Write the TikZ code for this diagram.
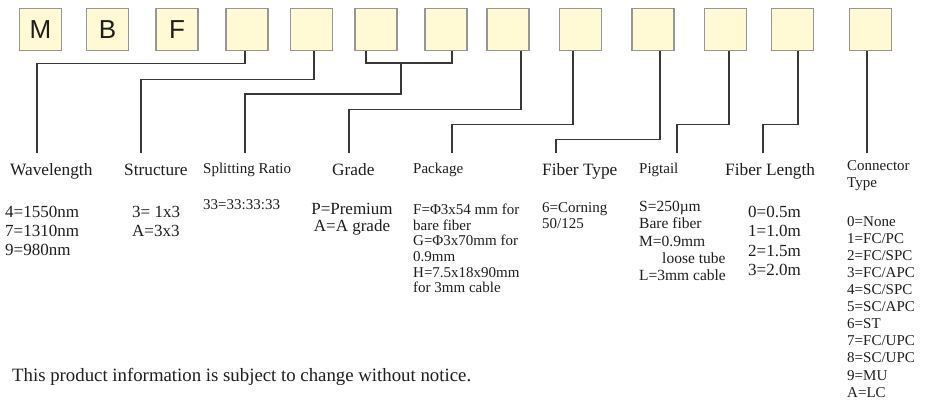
\documentclass[tikz,border=0pt]{standalone}
\usepackage{fontspec}
\setmainfont{Liberation Serif}
\newfontfamily\keyfont{Liberation Sans}
\usetikzlibrary{positioning}

\definecolor{keyfill}{RGB}{255,250,212}
\definecolor{keyline}{RGB}{150,150,150}
\definecolor{wirecol}{RGB}{55,55,55}
\definecolor{txtcol}{RGB}{30,30,30}

\tikzset{
  keybox/.style={draw=keyline, fill=keyfill, line width=1.4pt, minimum size=42pt,
    inner sep=0pt, text=txtcol, font=\keyfont\fontsize{26}{26}\selectfont},
  wire/.style={draw=wirecol, line width=1.3pt},
  biglabel/.style={anchor=base west, inner sep=0pt, text=txtcol, font=\fontsize{17.3}{19}\selectfont},
  smalllabel/.style={anchor=base west, inner sep=0pt, text=txtcol, font=\fontsize{15}{17}\selectfont},
  bigtext/.style={anchor=north west, inner sep=0pt, align=left, text=txtcol, font=\fontsize{17}{19}\selectfont},
  smalltext/.style={anchor=north west, inner sep=0pt, align=left, text=txtcol, font=\fontsize{15}{17}\selectfont}
}

\begin{document}
\begin{tikzpicture}[x=1pt,y=-1pt]
\useasboundingbox (0,0) rectangle (929,406);

% code boxes:
\node[keybox] (b1) at (40.5,29.5) {M};
\node[keybox] (b2) at (107.5,29.5) {B};
\node[keybox] (b3) at (177,29.5) {F};
\node[keybox] (b4) at (247,29.5) {};
\node[keybox] (b5) at (311.5,29.5) {};
\node[keybox] (b6) at (376,29.5) {};
\node[keybox] (b7) at (446,29.5) {};
\node[keybox] (b8) at (508,29.5) {};
\node[keybox] (b9) at (580.5,29.5) {};
\node[keybox] (b10) at (653,29.5) {};
\node[keybox] (b11) at (725.5,29.5) {};
\node[keybox] (b12) at (792.5,29.5) {};
\node[keybox] (b13) at (870.5,29.5) {};

% line ends above the labels:
\coordinate (e1) at (37,153);
\coordinate (e2) at (141,153);
\coordinate (e3) at (245,153);
\coordinate (e4) at (349,153);
\coordinate (e5) at (452,153);
\coordinate (e6) at (556,153);
\coordinate (e7) at (677,153);
\coordinate (e8) at (763,153);
\coordinate (e9) at (867,153);
\coordinate (j67) at (401,63);

% connectors:
\draw[wire] ([xshift=-2pt]b4.south) -- ++(0,12) -| (e1);
\draw[wire] ([xshift=2.5pt]b5.south) -- ++(0,28) -| (e2);
\draw[wire] ([xshift=-10pt]b6.south) |- (j67) -| ([xshift=6pt]b7.south);
\draw[wire] (j67) -- ++(0,31) -| (e3);
\draw[wire] ([xshift=13pt]b8.south) -- ++(0,58) -| (e4);
\draw[wire] ([xshift=-7.5pt]b9.south) -- ++(0,73) -| (e5);
\draw[wire] ([xshift=7pt]b10.south) -- ++(0,88) -| (e6);
\draw[wire] ([xshift=3.5pt]b11.south) -- ++(0,73) -| (e7);
\draw[wire] ([xshift=5.5pt]b12.south) -- ++(0,73) -| (e8);
\draw[wire] ([xshift=-3.5pt]b13.south) -- (e9);

% labels:
\node[biglabel] (wl) at (10,176) {Wavelength};
\node[biglabel] (st) at (124,176) {Structure};
\node[smalllabel] (sr) at (203,174) {Splitting Ratio};
\node[biglabel] (gr) at (332,176) {Grade};
\node[smalllabel] (pk) at (413,174) {Package};
\node[biglabel] (ft) at (542,176) {Fiber Type};
\node[smalllabel] (pg) at (639,174) {Pigtail};
\node[biglabel] (fl) at (725,176) {Fiber Length};
\node[smalltext] (ct) at (847,160) {Connector\\Type};

% code values:
\node[bigtext] (wlv) at (5,206) {4=1550nm\\7=1310nm\\9=980nm};
\node[bigtext] (stv) at (132,206) {3= 1x3\\A=3x3};
\node[smalltext] (srv) at (203,199) {33=33:33:33};
\node[bigtext, anchor=north, align=center, font=\fontsize{17}{17}\selectfont] (grv) at (352,203) {P=Premium\\A=A grade};
\node[smalltext, font=\fontsize{15}{15.6}\selectfont] (pkv) at (413,204) {F=Φ3x54 mm for\\bare fiber\\G=Φ3x70mm for\\0.9mm\\H=7.5x18x90mm\\for 3mm cable};
\node[smalltext, font=\fontsize{15}{16.5}\selectfont] (ftv) at (542,202) {6=Corning\\50/125};
\node[smalltext, font=\fontsize{15.5}{17.3}\selectfont] (pgv) at (639,201) {S=250µm\\Bare fiber\\M=0.9mm\\\hspace*{23pt}loose tube\\L=3mm cable};
\node[bigtext, font=\fontsize{17}{19.3}\selectfont] (flv) at (748,206) {0=0.5m\\1=1.0m\\2=1.5m\\3=2.0m};
\node[smalltext, font=\fontsize{15}{17.1}\selectfont] (ctv) at (847,216) {0=None\\1=FC/PC\\2=FC/SPC\\3=FC/APC\\4=SC/SPC\\5=SC/APC\\6=ST\\7=FC/UPC\\8=SC/UPC\\9=MU\\A=LC};

% note:
\node[biglabel, font=\fontsize{18.8}{21}\selectfont] (note) at (12,381) {This product information is subject to change without notice.};

\end{tikzpicture}
\end{document}
